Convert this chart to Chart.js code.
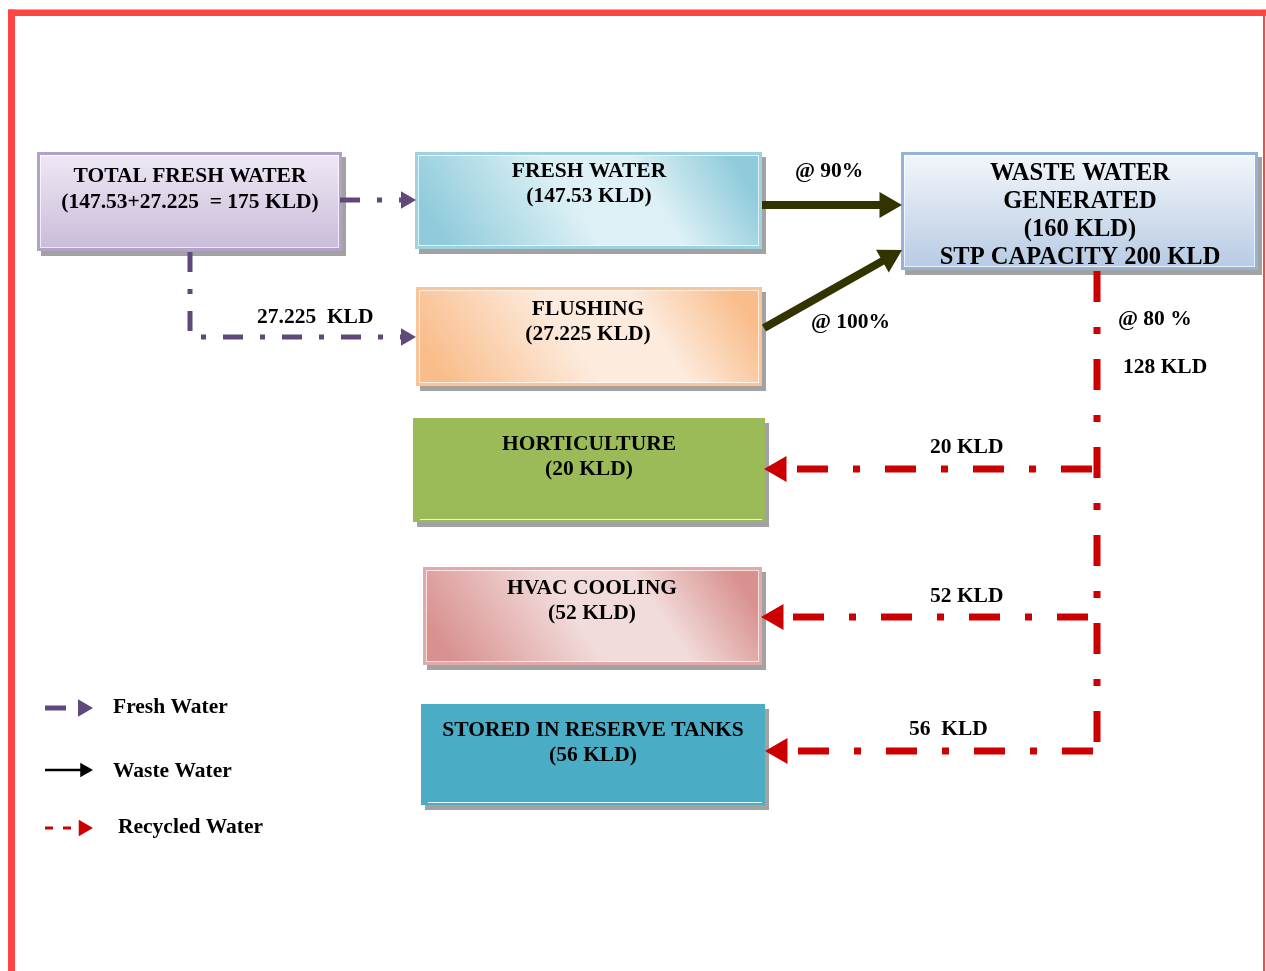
<!DOCTYPE html>
<html>
<head>
<meta charset="utf-8">
<title>Water balance</title>
<script src="https://cdn.jsdelivr.net/npm/chart.js@4.4.1/dist/chart.umd.min.js"></script>
<style>
  html, body { margin: 0; padding: 0; background: #fff; }
  #wrap { width: 1266px; height: 971px; }
</style>
</head>
<body>
<div id="wrap"><canvas id="flow" width="1266" height="971"></canvas></div>
<script>
// ---- data ----
const nodeNames = ['TOTAL FRESH WATER', 'FRESH WATER', 'FLUSHING', 'WASTE WATER GENERATED',
  'HORTICULTURE', 'HVAC COOLING', 'STORED IN RESERVE TANKS'];
const nodeKLD = [175, 147.53, 27.225, 160, 20, 52, 56];
const nodeText = [
  ['TOTAL FRESH WATER', '(147.53+27.225  = 175 KLD)'],
  ['FRESH WATER', '(147.53 KLD)'],
  ['FLUSHING', '(27.225 KLD)'],
  ['WASTE WATER', 'GENERATED', '(160 KLD)', 'STP CAPACITY 200 KLD'],
  ['HORTICULTURE', '(20 KLD)'],
  ['HVAC COOLING', '(52 KLD)'],
  ['STORED IN RESERVE TANKS', '(56 KLD)']
];
const flowFrom = [0, 0, 1, 2, 3, 3, 3, 3];
const flowTo   = [1, 2, 3, 3, null, 4, 5, 6];
const flowTypes = ['fresh', 'fresh', 'waste', 'waste', 'recycled', 'recycled', 'recycled', 'recycled'];
const flowLabels = [[], ['27.225  KLD'], ['@ 90%'], ['@ 100%'], ['@ 80 %', '128 KLD'],
  ['20 KLD'], ['52 KLD'], ['56  KLD']];
const legendLabels = ['Fresh Water', 'Waste Water', 'Recycled Water'];
const legendTypes = ['fresh', 'waste', 'recycled'];

// ---- layout, in page pixels ----
const boxRect = [
  [37, 152, 305, 99], [415, 152, 347, 97], [416, 287, 346, 99], [901, 152, 357, 118],
  [413, 418, 352, 104], [423, 567, 339, 98], [421, 704, 344, 101]
];
const boxTextAt = [
  [190, 182, 26], [589, 177, 25], [588, 315, 25], [1080, 180, 28],
  [589, 450, 25], [592, 594, 25], [593, 736, 25]
];
const flowPath = [
  [[340, 200], [416, 200]],
  [[190, 252], [190, 337], [416, 337]],
  [[762, 205], [902, 205]],
  [[764, 328], [902, 250]],
  [[1097, 271], [1097, 751]],
  [[1092, 469], [764, 469]],
  [[1088, 617], [761, 617]],
  [[1093, 751], [765, 751]]
];
const flowHead = [true, true, true, true, false, true, true, true];
const flowLabelAt = [[], [[257, 323]], [[795, 177]], [[811, 328]], [[1118, 325], [1123, 373]],
  [[930, 453]], [[930, 602]], [[909, 735]]];
const legendPath = [[[45, 708], [93, 708]], [[45, 770], [93, 770]], [[45, 828], [93, 828]]];
const legendTextAt = [[113, 713], [113, 777], [118, 833]];

const lineStyle = {
  fresh:    { color: '#5f497a', width: 5, dash: [20, 17, 5, 17], head: 10 },
  waste:    { color: '#333300', width: 8, dash: [], head: 15 },
  recycled: { color: '#cc0000', width: 7, dash: [31, 25, 7, 25], head: 15 }
};
const legendStyle = {
  fresh:    { color: '#5f497a', width: 5, dash: [21, 40], head: 10 },
  waste:    { color: '#000000', width: 2.5, dash: [], head: 8.5 },
  recycled: { color: '#cc0000', width: 3, dash: [8, 10], head: 9.5 }
};
const boxLook = [
  { kind: 'v', stops: ['#efe9f5', '#c9bbda'], border: '#b3a2c7' },
  { kind: 'd', stops: ['#8fcbdb', '#dcf0f5', '#8fcbdb'], border: '#9ed2e0' },
  { kind: 'd', stops: ['#f9bd8b', '#fdebdd', '#f9bd8b'], border: '#f8c49a' },
  { kind: 'v', stops: ['#f4f7fb', '#b6cae3'], border: '#95b3d7' },
  { kind: 's', stops: ['#9bbb59'], border: null },
  { kind: 'd', stops: ['#d8918f', '#f2dcdb', '#d8918f'], border: '#e2a9a8' },
  { kind: 's', stops: ['#4bacc6'], border: null }
];
const FONT = '"Liberation Serif", "Times New Roman", serif';

function buildSet(path, style, head) {
  const pts = path.map(p => ({ x: p[0], y: p[1] }));
  const n = pts.length;
  const radius = pts.map(() => 0);
  const rot = pts.map(() => 0);
  if (head) {
    const a = pts[n - 2], b = pts[n - 1];
    const dx = b.x - a.x, dy = b.y - a.y, len = Math.hypot(dx, dy);
    // triangle centred so that its tip lands on the path end
    pts[n - 1] = { x: b.x - dx / len * style.head, y: b.y - dy / len * style.head };
    radius[n - 1] = style.head;
    rot[n - 1] = Math.atan2(dx, -dy) * 180 / Math.PI;
  }
  return {
    type: 'line', data: pts, showLine: true, fill: false, tension: 0,
    borderColor: style.color, borderWidth: style.width, borderDash: style.dash,
    borderCapStyle: 'butt', borderJoinStyle: 'miter',
    pointStyle: 'triangle', pointRadius: radius, pointRotation: rot,
    pointBackgroundColor: style.color, pointBorderWidth: 0, pointHoverRadius: 0
  };
}

const datasets = [];
flowPath.forEach((p, i) => datasets.push(buildSet(p, lineStyle[flowTypes[i]], flowHead[i])));
legendPath.forEach((p, i) => datasets.push(buildSet(p, legendStyle[legendTypes[i]], true)));

const boxesPlugin = {
  id: 'boxes',
  beforeDraw(chart) {
    const c = chart.ctx;
    c.save();
    c.fillStyle = '#ff4444';
    c.fillRect(8, 9.5, 1258, 6.5);
    c.fillRect(8, 9.5, 7, 962);
    c.fillRect(1263, 9.5, 2, 962);
    c.restore();
  },
  beforeDatasetsDraw(chart) {
    const c = chart.ctx, xs = chart.scales.x, ys = chart.scales.y;
    c.save();
    boxRect.forEach((r, i) => {
      const x0 = xs.getPixelForValue(r[0]), y0 = ys.getPixelForValue(r[1]);
      const x1 = xs.getPixelForValue(r[0] + r[2]), y1 = ys.getPixelForValue(r[1] + r[3]);
      const w = x1 - x0, h = y1 - y0, look = boxLook[i];
      c.fillStyle = 'rgba(70,70,70,0.5)';
      c.fillRect(x0 + 4, y0 + 5, w, h);
      let fill;
      if (look.kind === 'v') {
        fill = c.createLinearGradient(0, y0, 0, y1);
        fill.addColorStop(0, look.stops[0]);
        fill.addColorStop(1, look.stops[1]);
      } else if (look.kind === 'd') {
        fill = c.createLinearGradient(x0 + w * 0.15, y1 + h * 0.3, x1 - w * 0.15, y0 - h * 0.3);
        fill.addColorStop(0, look.stops[0]);
        fill.addColorStop(0.45, look.stops[1]);
        fill.addColorStop(0.7, look.stops[1]);
        fill.addColorStop(1, look.stops[2]);
      } else {
        fill = look.stops[0];
      }
      c.fillStyle = fill;
      c.fillRect(x0, y0, w, h);
      if (look.border) {
        c.strokeStyle = look.border;
        c.lineWidth = 3;
        c.strokeRect(x0 + 1.5, y0 + 1.5, w - 3, h - 3);
        c.strokeStyle = 'rgba(255,255,255,0.7)';
        c.lineWidth = 1;
        c.strokeRect(x0 + 3.5, y0 + 3.5, w - 7, h - 7);
      } else {
        c.strokeStyle = 'rgba(255,255,255,0.9)';
        c.lineWidth = 1;
        c.beginPath();
        c.moveTo(x0 + 7, y1 - 2.5);
        c.lineTo(x1 - 3, y1 - 2.5);
        c.stroke();
      }
    });
    c.restore();
  },
  afterDatasetsDraw(chart) {
    const c = chart.ctx, xs = chart.scales.x, ys = chart.scales.y;
    c.save();
    c.fillStyle = '#000';
    c.textBaseline = 'alphabetic';
    c.textAlign = 'center';
    nodeText.forEach((lines, i) => {
      const t = boxTextAt[i];
      c.font = 'bold ' + (i === 3 ? 24.5 : 21.5) + 'px ' + FONT;
      lines.forEach((s, k) => c.fillText(s, xs.getPixelForValue(t[0]), ys.getPixelForValue(t[1] + k * t[2])));
    });
    c.textAlign = 'left';
    c.font = 'bold 21.5px ' + FONT;
    flowLabels.forEach((lines, i) => {
      lines.forEach((s, k) => {
        const p = flowLabelAt[i][k];
        c.fillText(s, xs.getPixelForValue(p[0]), ys.getPixelForValue(p[1]));
      });
    });
    legendLabels.forEach((s, i) => {
      const p = legendTextAt[i];
      c.fillText(s, xs.getPixelForValue(p[0]), ys.getPixelForValue(p[1]));
    });
    c.restore();
  }
};

new Chart(document.getElementById('flow'), {
  type: 'scatter',
  data: { datasets },
  options: {
    responsive: false,
    animation: false,
    events: [],
    layout: { padding: 0, autoPadding: false },
    scales: {
      x: { type: 'linear', min: 0, max: 1266, display: false },
      y: { type: 'linear', min: 0, max: 971, reverse: true, display: false }
    },
    plugins: { legend: { display: false }, tooltip: { enabled: false } }
  },
  plugins: [boxesPlugin]
});
</script>
</body>
</html>
